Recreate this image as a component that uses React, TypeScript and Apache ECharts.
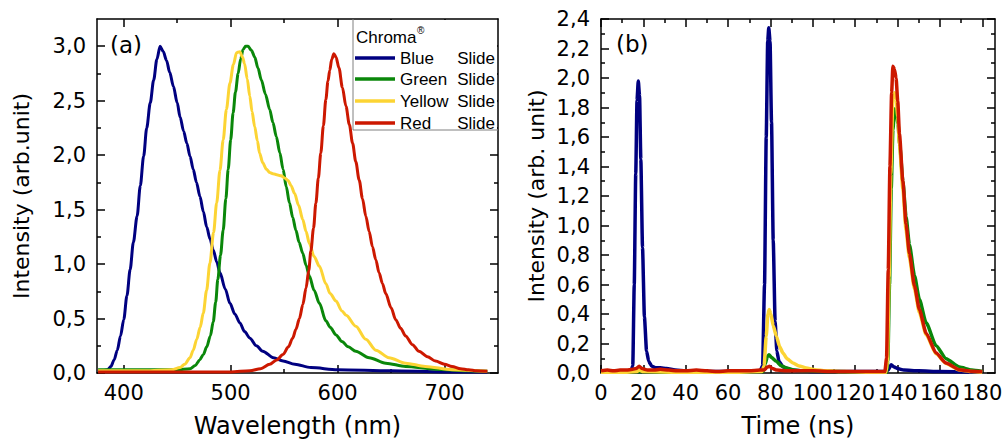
import React, { useEffect, useRef } from 'react';
import * as echarts from 'echarts';

// ---------- (a) spectra ----------
const blueWl = [376, 381, 385, 388, 391, 394, 397, 400, 403, 406, 409, 412.5, 415.5, 418.6, 421.5, 424.8, 428, 431, 434, 437, 440, 443, 446.5, 450, 452.7, 456, 459, 462, 465, 468, 471.3, 474.5, 477.6, 480.7, 483.7, 487, 490, 495, 499.3, 504, 508.6, 513, 518, 524, 530, 540, 549, 560, 575, 600, 650, 700, 740];
const blueSpec = [0.02, 0.02, 0.03, 0.06, 0.12, 0.21, 0.34, 0.49, 0.71, 0.95, 1.2, 1.44, 1.72, 1.99, 2.25, 2.48, 2.69, 2.88, 3.0, 2.95, 2.87, 2.76, 2.63, 2.48, 2.35, 2.22, 2.11, 1.99, 1.87, 1.75, 1.62, 1.48, 1.34, 1.23, 1.13, 1.02, 0.92, 0.77, 0.64, 0.54, 0.46, 0.38, 0.32, 0.25, 0.2, 0.14, 0.11, 0.08, 0.05, 0.03, 0.02, 0.01, 0.01];

const greenWl = [376, 420, 450, 462, 467, 471, 474.5, 477.6, 481, 483.7, 486, 488, 490.5, 493, 495.5, 497.7, 500, 502.3, 504.5, 507, 509.3, 511.6, 514, 516.3, 519.5, 522.5, 525.5, 528.7, 532.5, 536.5, 539.5, 542.7, 546, 549, 552, 555, 558, 561, 564, 567.4, 570.5, 573.6, 578, 583, 589, 593, 598.5, 604, 610, 617, 629.5, 645, 663.6, 691.5, 720, 740];
const greenSpec = [0.03, 0.03, 0.03, 0.04, 0.07, 0.12, 0.17, 0.24, 0.34, 0.47, 0.65, 0.86, 1.08, 1.31, 1.6, 1.87, 2.14, 2.39, 2.58, 2.75, 2.88, 2.97, 3.0, 3.0, 2.96, 2.9, 2.8, 2.69, 2.56, 2.42, 2.3, 2.17, 2.02, 1.87, 1.71, 1.56, 1.43, 1.31, 1.2, 1.1, 0.99, 0.89, 0.76, 0.64, 0.48, 0.42, 0.35, 0.29, 0.24, 0.2, 0.14, 0.09, 0.06, 0.035, 0.02, 0.015];

const yellowWl = [376, 420, 445, 452.7, 457, 462, 465, 468.3, 471.5, 474.4, 477.5, 480.6, 484, 486.9, 490, 493, 496, 499.3, 502.5, 505.5, 508.6, 511, 513, 515.5, 517.9, 520, 522.5, 525, 527, 530, 533.4, 536.5, 539.5, 543, 547.3, 550.5, 553.5, 556.5, 559.7, 563.5, 567.4, 570.5, 573.6, 578, 583, 589, 593, 598.5, 604, 608, 617, 626.4, 635.7, 648, 663.6, 682, 707, 740];
const yellowSpec = [0.02, 0.02, 0.03, 0.05, 0.08, 0.14, 0.21, 0.31, 0.42, 0.55, 0.76, 1.01, 1.29, 1.56, 1.86, 2.14, 2.42, 2.66, 2.83, 2.94, 2.95, 2.9, 2.84, 2.7, 2.54, 2.4, 2.26, 2.13, 2.02, 1.93, 1.87, 1.84, 1.83, 1.82, 1.81, 1.79, 1.77, 1.72, 1.65, 1.54, 1.41, 1.3, 1.19, 1.07, 0.98, 0.82, 0.73, 0.66, 0.57, 0.53, 0.43, 0.31, 0.21, 0.14, 0.09, 0.06, 0.03, 0.015];

const redWl = [376, 450, 500, 518, 528, 536.5, 543, 549, 554, 558, 561, 564.3, 567.5, 570.5, 573, 575, 577.5, 579.7, 582, 584.3, 586.7, 589, 591, 592.7, 594.5, 596.5, 598.5, 601.3, 604.5, 607.8, 611, 614, 617, 620.2, 623.3, 626.4, 629.5, 632.6, 635.7, 638.8, 642, 645, 650, 654.3, 659, 663.6, 670, 676, 684, 691.5, 700, 707, 715, 722.5, 730, 740];
const redSpec = [0.01, 0.01, 0.01, 0.02, 0.04, 0.08, 0.12, 0.17, 0.24, 0.32, 0.4, 0.5, 0.63, 0.78, 0.94, 1.12, 1.33, 1.56, 1.79, 2.02, 2.27, 2.51, 2.68, 2.78, 2.88, 2.93, 2.9, 2.8, 2.62, 2.45, 2.28, 2.11, 1.94, 1.77, 1.6, 1.44, 1.3, 1.16, 1.04, 0.92, 0.82, 0.73, 0.6, 0.49, 0.41, 0.34, 0.26, 0.2, 0.15, 0.11, 0.08, 0.06, 0.04, 0.03, 0.02, 0.015];

// ---------- (b) time-resolved ----------
const blueT = [0, 5, 10, 13, 14.3, 15, 15.7, 16.4, 17, 17.6, 18.2, 18.8, 19.6, 20.5, 21.5, 22.5, 24, 26, 28, 31, 35, 40, 50, 60, 70, 75, 76.3, 77.2, 78, 78.7, 79.2, 79.8, 80.5, 81.3, 82.2, 83, 84, 86, 90, 95, 100, 120, 134, 135.5, 137, 138.5, 140, 143, 150, 160, 180];
const blueI = [0.01, 0.01, 0.01, 0.01, 0.02, 0.05, 0.6, 1.35, 1.85, 1.98, 1.88, 1.45, 0.85, 0.38, 0.15, 0.08, 0.045, 0.035, 0.035, 0.03, 0.02, 0.015, 0.01, 0.01, 0.01, 0.01, 0.05, 0.6, 1.6, 2.25, 2.34, 2.25, 1.7, 0.9, 0.35, 0.15, 0.08, 0.04, 0.02, 0.015, 0.01, 0.01, 0.01, 0.02, 0.056, 0.04, 0.03, 0.02, 0.015, 0.01, 0.005];

const greenT = [0, 18, 40, 76.5, 77.5, 78.5, 79.3, 80.5, 82.8, 85, 87.5, 91, 95, 110, 134.8, 135.4, 136.2, 137, 137.8, 138.6, 139.4, 140.2, 141, 142.5, 144, 145.6, 148, 150.3, 153.5, 158.2, 162.9, 169.2, 175, 180];
const greenI = [0.005, 0.01, 0.005, 0.01, 0.06, 0.11, 0.124, 0.105, 0.079, 0.05, 0.034, 0.02, 0.015, 0.01, 0.005, 0.08, 0.6, 1.25, 1.65, 1.79, 1.78, 1.69, 1.55, 1.3, 1.06, 0.87, 0.66, 0.5, 0.34, 0.185, 0.097, 0.04, 0.02, 0.01];

const yellowT = [0, 10, 17, 18, 20, 40, 60, 76, 77, 78, 78.8, 79.4, 80.2, 81.3, 82.8, 84.3, 85.9, 88, 90.6, 93.5, 96.9, 101, 106, 115, 130, 134.5, 135.2, 136, 136.8, 137.8, 138.5, 139.3, 140.1, 140.9, 142.5, 144, 145.6, 148, 150.3, 153.5, 158.2, 162.9, 169.2, 175, 180];
const yellowI = [0.005, 0.005, 0.01, 0.02, 0.01, 0.005, 0.005, 0.01, 0.05, 0.25, 0.4, 0.43, 0.4, 0.32, 0.25, 0.18, 0.135, 0.095, 0.068, 0.048, 0.034, 0.022, 0.015, 0.01, 0.005, 0.005, 0.08, 0.65, 1.35, 1.88, 1.9, 1.86, 1.74, 1.55, 1.25, 0.97, 0.78, 0.57, 0.41, 0.26, 0.13, 0.065, 0.021, 0.01, 0.005];

const redT = [0, 3, 6, 9, 12, 15, 16.5, 18, 19.5, 22, 25, 28, 32, 36, 40, 45, 50, 55, 60, 65, 70, 75, 77, 78.5, 79.5, 81, 83, 88, 95, 100, 110, 120, 130, 134, 134.8, 135.6, 136.4, 137.2, 137.8, 138.5, 139.3, 140.1, 140.9, 142.5, 144, 145.6, 148, 150.3, 153.5, 158.2, 162.9, 169.2, 175, 180];
const redI = [0.015, 0.02, 0.015, 0.02, 0.02, 0.025, 0.03, 0.045, 0.03, 0.02, 0.02, 0.025, 0.02, 0.015, 0.015, 0.02, 0.015, 0.01, 0.015, 0.015, 0.015, 0.02, 0.02, 0.04, 0.045, 0.03, 0.02, 0.015, 0.015, 0.015, 0.01, 0.01, 0.01, 0.01, 0.1, 0.7, 1.4, 1.9, 2.08, 2.06, 2.0, 1.84, 1.62, 1.3, 1.01, 0.81, 0.59, 0.43, 0.27, 0.135, 0.068, 0.022, 0.012, 0.01];

// ---------- ticks ----------
const aXMajor = [400, 500, 600, 700];
const aXMinor = [450, 550, 650];
const aYMajor = [0, 0.5, 1.0, 1.5, 2.0, 2.5, 3.0];
const aYMinor = [0.25, 0.75, 1.25, 1.75, 2.25, 2.75];
const bXMajor = [0, 20, 40, 60, 80, 100, 120, 140, 160, 180];
const bXMinor = [10, 30, 50, 70, 90, 110, 130, 150, 170];
const bYMajor = [0, 0.2, 0.4, 0.6, 0.8, 1.0, 1.2, 1.4, 1.6, 1.8, 2.0, 2.2, 2.4];
const bYMinor = [0.1, 0.3, 0.5, 0.7, 0.9, 1.1, 1.3, 1.5, 1.7, 1.9, 2.1, 2.3];

const legendNames = ['Blue', 'Green', 'Yellow', 'Red'];
const colors = ['#000080', '#0a870a', '#fcd434', '#cc1800'];

const FONT = 'DejaVu Sans';
const LFONT = 'Liberation Sans';

const zip = (xs: number[], ys: number[]) => xs.map((x, i) => [x, ys[i]]);

function axisSet(
  dim: 'x' | 'y',
  gridIndex: number,
  min: number,
  max: number,
  major: number[],
  minor: number[],
  fmt: (v: number) => string,
  name: string,
  nameGap: number,
) {
  const positions = dim === 'x' ? ['bottom', 'top'] : ['left', 'right'];
  const line = { color: '#000', width: 1.5 };
  const out: any[] = [];
  positions.forEach((pos, pi) => {
    out.push({
      type: 'value',
      gridIndex,
      position: pos,
      min,
      max,
      axisLine: { show: true, onZero: false, lineStyle: line },
      axisTick: { show: true, inside: true, length: 8, customValues: major, lineStyle: line },
      axisLabel: {
        show: pi === 0,
        customValues: major,
        formatter: (v: number) => fmt(v),
        color: '#000',
        fontFamily: FONT,
        fontSize: 21,
        margin: dim === 'x' ? 9 : 11,
      },
      splitLine: { show: false },
      name: pi === 0 ? name : '',
      nameLocation: 'middle',
      nameGap,
      nameTextStyle: { color: '#000', fontFamily: FONT, fontSize: dim === 'x' ? 24 : 22 },
    });
    out.push({
      type: 'value',
      gridIndex,
      position: pos,
      min,
      max,
      axisLine: { show: false, onZero: false },
      axisTick: { show: true, inside: true, length: 4, customValues: minor, lineStyle: line },
      axisLabel: { show: false },
      splitLine: { show: false },
    });
  });
  return out;
}

const fmtComma = (v: number) => v.toFixed(1).replace('.', ',');
const fmtInt = (v: number) => String(Math.round(v));

export default function App() {
  const ref = useRef<HTMLDivElement>(null);
  useEffect(() => {
    document.body.style.margin = '0';
    const chart = echarts.init(ref.current!, undefined, { renderer: 'svg' });
    const xAxis = [
      ...axisSet('x', 0, 375, 750, aXMajor, aXMinor, fmtInt, 'Wavelength (nm)', 41),
      ...axisSet('x', 1, 0, 186, bXMajor, bXMinor, fmtInt, 'Time (ns)', 41),
    ];
    const yAxis = [
      ...axisSet('y', 0, 0, 3.25, aYMajor, aYMinor, fmtComma, 'Intensity (arb.unit)', 65),
      ...axisSet('y', 1, 0, 2.4, bYMajor, bYMinor, fmtComma, 'Intensity (arb. unit)', 54),
    ];
    const aData = [zip(blueWl, blueSpec), zip(greenWl, greenSpec), zip(yellowWl, yellowSpec), zip(redWl, redSpec)];
    const bData = [zip(blueT, blueI), zip(greenT, greenI), zip(yellowT, yellowI), zip(redT, redI)];
    const series: any[] = [];
    aData.forEach((d, i) =>
      series.push({
        type: 'line', name: legendNames[i] + ' Slide', xAxisIndex: 0, yAxisIndex: 0, data: d,
        showSymbol: false, symbol: 'none', smooth: 0.3, smoothMonotone: 'x',
        lineStyle: { color: colors[i], width: 3 }, itemStyle: { color: colors[i] }, z: 2 + i,
      }),
    );
    bData.forEach((d, i) =>
      series.push({
        type: 'line', name: legendNames[i] + ' Slide', xAxisIndex: 4, yAxisIndex: 4, data: d,
        showSymbol: false, symbol: 'none', smooth: 0.2, smoothMonotone: 'x',
        lineStyle: { color: colors[i], width: 3.5 }, itemStyle: { color: colors[i] }, z: 2 + i,
      }),
    );

    const legendY = [58, 79, 101, 123];
    const graphic: any[] = [
      { type: 'rect', z: 100, shape: { x: 353, y: 20, width: 144, height: 110 }, style: { fill: '#fff', stroke: null } },
      { type: 'line', z: 101, shape: { x1: 353, y1: 19, x2: 353, y2: 130 }, style: { stroke: '#808080', lineWidth: 1 } },
      { type: 'line', z: 101, shape: { x1: 353, y1: 130, x2: 498, y2: 130 }, style: { stroke: '#808080', lineWidth: 1 } },
      { type: 'text', z: 101, x: 356, y: 37, style: { text: 'Chroma', fontFamily: LFONT, fontSize: 17, fill: '#000', verticalAlign: 'middle' } },
      { type: 'text', z: 101, x: 417, y: 30, style: { text: '®', fontFamily: LFONT, fontSize: 10, fill: '#000', verticalAlign: 'middle' } },
      { type: 'text', z: 101, x: 110, y: 45, style: { text: '(a)', fontFamily: FONT, fontSize: 23, fill: '#000', verticalAlign: 'middle' } },
      { type: 'text', z: 101, x: 616, y: 44, style: { text: '(b)', fontFamily: FONT, fontSize: 23, fill: '#000', verticalAlign: 'middle' } },
    ];
    legendNames.forEach((n, i) => {
      graphic.push({ type: 'line', z: 101, shape: { x1: 355, y1: legendY[i], x2: 395, y2: legendY[i] }, style: { stroke: colors[i], lineWidth: 3.5 } });
      graphic.push({ type: 'text', z: 101, x: 400, y: legendY[i], style: { text: n, fontFamily: LFONT, fontSize: 17, fill: '#000', verticalAlign: 'middle' } });
      graphic.push({ type: 'text', z: 101, x: 495, y: legendY[i], style: { text: 'Slide', fontFamily: LFONT, fontSize: 17, fill: '#000', verticalAlign: 'middle', align: 'right' } });
    });

    chart.setOption({
      animation: false,
      backgroundColor: '#fff',
      grid: [
        { left: 97, top: 19, width: 401, height: 354 },
        { left: 601, top: 19, width: 394, height: 354 },
      ],
      xAxis,
      yAxis,
      series,
      graphic,
    });
    return () => chart.dispose();
  }, []);
  return <div ref={ref} style={{ width: 1007, height: 443 }} />;
}
